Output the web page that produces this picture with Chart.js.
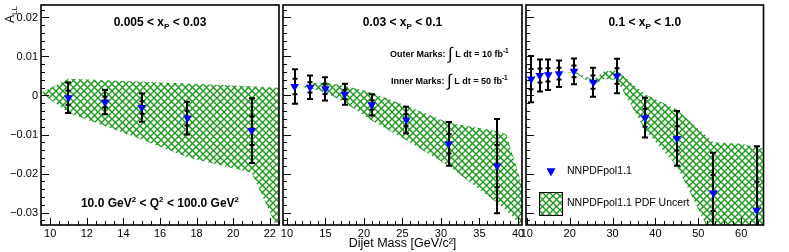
<!DOCTYPE html>
<html>
<head>
<meta charset="utf-8">
<script src="https://cdn.jsdelivr.net/npm/chart.js@4.4.1/dist/chart.umd.min.js"></script>
<style>
  html, body { margin: 0; padding: 0; background: #fff; }
  #wrap { position: relative; width: 789px; height: 252px; }
  #wrap canvas { position: absolute; left: 0; top: 0; }
</style>
</head>
<body>
<div id="wrap">
  <canvas id="p1" width="789" height="252"></canvas>
  <canvas id="p2" width="789" height="252"></canvas>
  <canvas id="p3" width="789" height="252"></canvas>
</div>
<script>
// ===== DATA =====

const yMajor = [-0.03, -0.02, -0.01, 0, 0.01, 0.02];
const yTickLabels = ['\u22120.03', '\u22120.02', '\u22120.01', '0', '0.01', '0.02'];

const xMajorP1 = [10, 12, 14, 16, 18, 20, 22];
const xMajorP2 = [10, 15, 20, 25, 30, 35, 40];
const xMajorP3 = [10, 20, 30, 40, 50, 60];

// 0.005 < xP < 0.03
const massP1 = [11, 13, 15, 17.5, 21];
const allP1 = [-0.0006, -0.0017, -0.0031, -0.0058, -0.0090];
const errOuterP1 = [0.0039, 0.0031, 0.0036, 0.0042, 0.0083];
const errInnerP1 = [0.0018, 0.0014, 0.0016, 0.0019, 0.0037];
const bandXP1 = [9.5, 11, 13, 15, 17.5, 21, 22.5];
const bandHiP1 = [0.0007, 0.0043, 0.0039, 0.0035, 0.0031, 0.0024, 0.0020];
const bandLoP1 = [0.0007, -0.0044, -0.0079, -0.0113, -0.0158, -0.0198, -0.0350];

// 0.03 < xP < 0.1
const massP2 = [11, 13, 15, 17.5, 21, 25.5, 31, 37.3];
const allP2 = [0.0023, 0.0021, 0.0017, 0.0003, -0.0024, -0.0063, -0.0124, -0.0181];
const errOuterP2 = [0.0044, 0.0030, 0.0030, 0.0027, 0.0027, 0.0034, 0.0056, 0.0121];
const errInnerP2 = [0.0020, 0.0013, 0.0013, 0.0012, 0.0012, 0.0015, 0.0025, 0.0054];
const bandXP2 = [10.5, 12, 13.5, 15, 17.5, 21, 25.5, 31, 37.5, 38.5, 41];
const bandHiP2 = [0.0022, 0.0022, 0.0032, 0.0033, 0.0025, 0.0008, -0.0026, -0.0070, -0.0092, -0.0100, -0.0260];
const bandLoP2 = [0.0022, 0.0022, 0.0016, 0.0008, -0.0018, -0.0064, -0.0115, -0.0181, -0.0278, -0.0295, -0.0345];

// 0.1 < xP < 1.0
const massP3 = [11, 13, 15, 17.5, 21, 25.5, 31, 37.6, 45, 53.5, 63.6];
const allP3 = [0.0042, 0.0051, 0.0053, 0.0056, 0.0062, 0.0034, 0.0050, -0.0057, -0.0110, -0.0250, -0.0294];
const errOuterP3 = [0.0059, 0.0041, 0.0039, 0.0034, 0.0033, 0.0037, 0.0044, 0.0051, 0.0070, 0.0103, 0.0164];
const errInnerP3 = [0.0026, 0.0018, 0.0017, 0.0015, 0.0015, 0.0017, 0.0020, 0.0023, 0.0031, 0.0046, 0.0073];
const bandXP3 = [17.5, 21, 25.5, 28, 31, 37.5, 45, 53.5, 60, 66];
const bandHiP3 = [0.0056, 0.0062, 0.0040, 0.0062, 0.0064, 0.0004, -0.0036, -0.0120, -0.0124, -0.0138];
const bandLoP3 = [0.0056, 0.0060, 0.0026, 0.0042, 0.0040, -0.0087, -0.0181, -0.0370, -0.0400, -0.0420];

// ===== HELPERS =====

const FONT = '"Liberation Sans", Arial, sans-serif';
const HATCH_GREEN = '#1c9a1c';
const MARKER_BLUE = '#0000ff';

function pts(xs, ys) {
  return xs.map((x, i) => ({ x, y: ys[i] }));
}

function isMajor(v, majors) {
  return majors.findIndex(m => Math.abs(m - v) < 1e-9);
}

function makeHatch(ctx) {
  const c = document.createElement('canvas');
  c.width = 7; c.height = 7;
  const g = c.getContext('2d');
  g.strokeStyle = HATCH_GREEN;
  g.lineWidth = 1.4;
  g.beginPath();
  g.moveTo(-1, -1); g.lineTo(8, 8);
  g.moveTo(8, -1); g.lineTo(-1, 8);
  g.stroke();
  return ctx.createPattern(c, 'repeat');
}

// draw runs of [text, font, dy] one after the other
function drawRuns(ctx, runs, x, y, align) {
  let w = 0;
  for (const r of runs) { ctx.font = r[1]; w += ctx.measureText(r[0]).width; }
  let cx = align === 'center' ? x - w / 2 : x;
  for (const r of runs) {
    ctx.font = r[1];
    ctx.fillText(r[0], cx, y + (r[2] || 0));
    cx += ctx.measureText(r[0]).width;
  }
}

function titleRuns(lo, hi) {
  const b = `bold 12px ${FONT}`;
  const s = `bold 8px ${FONT}`;
  return [[`${lo} < x`, b], ['P', s, 2.5], [` < ${hi}`, b]];
}

// ===== PANEL PLUGIN: error bars, frame, inner ticks, texts =====

function panelPlugin(p) {
  return {
    id: 'panel_' + p.id,
    beforeDatasetDraw(chart, args) {
      if (args.index !== 0) return;
      const { ctx, chartArea: a, scales: { x, y } } = chart;
      ctx.save();
      ctx.beginPath();
      ctx.rect(a.left, a.top, a.right - a.left, a.bottom - a.top);
      ctx.clip();
      ctx.strokeStyle = '#000';
      ctx.lineWidth = 2;
      p.mass.forEach((m, i) => {
        const px = Math.round(x.getPixelForValue(m));
        const v = p.all[i];
        const yHi = y.getPixelForValue(v + p.errOuter[i]);
        const yLo = y.getPixelForValue(v - p.errOuter[i]);
        const iHi = y.getPixelForValue(v + p.errInner[i]);
        const iLo = y.getPixelForValue(v - p.errInner[i]);
        ctx.beginPath();
        ctx.moveTo(px, yHi); ctx.lineTo(px, yLo);
        for (const cy of [yHi, yLo]) { ctx.moveTo(px - 3, cy); ctx.lineTo(px + 3, cy); }
        for (const cy of [iHi, iLo]) { ctx.moveTo(px - 2.5, cy); ctx.lineTo(px + 2.5, cy); }
        ctx.stroke();
      });
      ctx.restore();
    },
    afterDraw(chart) {
      const { ctx, chartArea: a, scales: { x, y } } = chart;
      ctx.save();
      ctx.strokeStyle = '#000';
      ctx.lineWidth = 1;
      ctx.beginPath();
      for (const t of x.ticks) {
        const px = Math.round(x.getPixelForValue(t.value)) + 0.5;
        const len = isMajor(t.value, p.xMajor) >= 0 ? 7 : 4;
        ctx.moveTo(px, a.bottom); ctx.lineTo(px, a.bottom - len);
      }
      for (const t of y.ticks) {
        const py = Math.round(y.getPixelForValue(t.value)) + 0.5;
        const len = isMajor(t.value, yMajor) >= 0 ? 8 : 4;
        ctx.moveTo(a.left, py); ctx.lineTo(a.left + len, py);
      }
      ctx.stroke();
      ctx.lineWidth = 1.6;
      ctx.strokeRect(a.left, a.top, a.right - a.left, a.bottom - a.top);

      ctx.fillStyle = '#000';
      ctx.textBaseline = 'alphabetic';
      drawRuns(ctx, titleRuns(p.title[0], p.title[1]), (a.left + a.right) / 2, 26, 'center');
      if (p.extra) p.extra(chart, ctx);
      ctx.restore();
    }
  };
}

// ===== PANELS =====

function makePanel(p) {
  const ctx = document.getElementById(p.id).getContext('2d');
  const hatch = makeHatch(ctx);
  p.hatch = hatch;
  return new Chart(ctx, {
    type: 'line',
    data: {
      datasets: [
        {
          data: pts(p.mass, p.all),
          showLine: false,
          pointStyle: 'triangle',
          pointRotation: 180,
          pointRadius: 5,
          pointBackgroundColor: MARKER_BLUE,
          pointBorderWidth: 0,
          borderColor: 'rgba(0,0,0,0)'
        },
        {
          data: pts(p.bandX, p.bandHi),
          fill: '+1',
          backgroundColor: hatch,
          borderColor: 'rgba(0,0,0,0)',
          borderWidth: 0,
          pointRadius: 0
        },
        {
          data: pts(p.bandX, p.bandLo),
          fill: false,
          borderColor: 'rgba(0,0,0,0)',
          borderWidth: 0,
          pointRadius: 0
        }
      ]
    },
    options: {
      responsive: false,
      animation: false,
      devicePixelRatio: 1,
      events: [],
      layout: { padding: { left: p.padL, right: p.padR, top: 5, bottom: 0 } },
      plugins: { legend: { display: false }, tooltip: { enabled: false } },
      scales: {
        x: {
          type: 'linear',
          min: p.xMin,
          max: p.xMax,
          grid: { display: false, drawTicks: false },
          border: { display: false },
          ticks: {
            stepSize: p.xStep,
            autoSkip: false,
            maxRotation: 0,
            includeBounds: false,
            padding: 2,
            color: '#000',
            font: { family: FONT, size: 11 },
            callback: v => (isMajor(v, p.xMajor) >= 0 ? String(p.xMajor[isMajor(v, p.xMajor)]) : '')
          },
          title: {
            display: !!p.xTitle,
            text: p.xTitle || '',
            color: '#000',
            font: { family: FONT, size: 12.5 },
            padding: { top: 0, bottom: 1 }
          },
          afterFit: s => { s.height = 27; s.paddingLeft = 0; s.paddingRight = 0; }
        },
        y: {
          type: 'linear',
          min: -0.0332,
          max: 0.0232,
          grid: { display: false, drawTicks: false },
          border: { display: false },
          ticks: {
            display: p.yLabels,
            stepSize: 0.002,
            autoSkip: false,
            includeBounds: false,
            padding: 3,
            color: '#000',
            font: { family: FONT, size: 11 },
            callback: v => (isMajor(v, yMajor) >= 0 ? yTickLabels[isMajor(v, yMajor)] : '')
          },
          afterFit: s => { s.width = p.yWidth; s.paddingTop = 0; s.paddingBottom = 0; }
        }
      }
    },
    plugins: [panelPlugin(p)]
  });
}

makePanel({
  id: 'p1', padL: 0, padR: 510, yWidth: 41, yLabels: true,
  xMin: 9.5, xMax: 22.5, xStep: 0.5, xMajor: xMajorP1,
  mass: massP1, all: allP1, errOuter: errOuterP1, errInner: errInnerP1,
  bandX: bandXP1, bandHi: bandHiP1, bandLo: bandLoP1,
  title: ['0.005', '0.03'],
  extra(chart, ctx) {
    const b = `bold 12px ${FONT}`, s = `bold 8px ${FONT}`;
    drawRuns(ctx, [['10.0 GeV', b], ['2', s, -5], [' < Q', b], ['2', s, -5],
      [' < 100.0 GeV', b], ['2', s, -5]], 160, 207, 'center');
    // y axis title A_LL, rotated
    ctx.save();
    ctx.translate(14, 23);
    ctx.rotate(-Math.PI / 2);
    drawRuns(ctx, [['A', `12px ${FONT}`], ['LL', `8px ${FONT}`, 3]], 0, 0, 'left');
    ctx.restore();
  }
});

makePanel({
  id: 'p2', padL: 283, padR: 267, yWidth: 0, yLabels: false,
  xMin: 9.49, xMax: 40.52, xStep: 1, xMajor: xMajorP2,
  mass: massP2, all: allP2, errOuter: errOuterP2, errInner: errInnerP2,
  bandX: bandXP2, bandHi: bandHiP2, bandLo: bandLoP2,
  title: ['0.03', '0.1'],
  xTitle: 'Dijet Mass [GeV/c\u00B2]',
  extra(chart, ctx) {
    const b = `bold 9px ${FONT}`, s = `bold 6.5px ${FONT}`, ig = `17px ${FONT}`;
    drawRuns(ctx, [['Outer Marks: ', b], ['\u222B', ig, 2], [' L dt = 10 fb', b], ['-1', s, -4]], 390, 57, 'left');
    drawRuns(ctx, [['Inner Marks: ', b], ['\u222B', ig, 2], [' L dt = 50 fb', b], ['-1', s, -4]], 391, 84, 'left');
  }
});

makePanel({
  id: 'p3', padL: 526, padR: 25.5, yWidth: 0, yLabels: false,
  xMin: 9.8, xMax: 65.2, xStep: 2, xMajor: xMajorP3,
  mass: massP3, all: allP3, errOuter: errOuterP3, errInner: errInnerP3,
  bandX: bandXP3, bandHi: bandHiP3, bandLo: bandLoP3,
  title: ['0.1', '1.0'],
  extra(chart, ctx) {
    // legend
    ctx.fillStyle = MARKER_BLUE;
    ctx.beginPath();
    Chart.helpers.drawPoint(ctx, { pointStyle: 'triangle', rotation: 180, radius: 5 }, 551, 171);
    ctx.fill();
    ctx.fillStyle = this.hatch;
    ctx.fillRect(539, 192, 23, 23);
    ctx.strokeStyle = '#000';
    ctx.lineWidth = 1;
    ctx.strokeRect(539.5, 192.5, 23, 23);
    ctx.fillStyle = '#000';
    ctx.font = `10.5px ${FONT}`;
    ctx.textBaseline = 'middle';
    ctx.fillText('NNPDFpol1.1', 567, 171);
    ctx.fillText('NNPDFpol1.1 PDF Uncert', 567, 203);
  }
});
</script>
</body>
</html>
